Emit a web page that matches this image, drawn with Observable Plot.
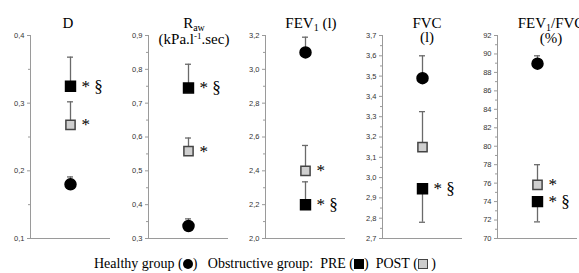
<!DOCTYPE html>
<html><head><meta charset="utf-8">
<script src="https://cdn.jsdelivr.net/npm/d3@7"></script>
<script src="https://cdn.jsdelivr.net/npm/@observablehq/plot@0.6"></script>
<style>
body{margin:0;background:#fff;}
#chart{position:relative;width:579px;height:273px;overflow:hidden;font-family:'Liberation Serif','Times New Roman',serif;color:#000;}
.panel{position:absolute;top:0;}
.title{position:absolute;font-size:15px;line-height:14px;text-align:center;white-space:nowrap;transform:translateX(-50%);}
.title sub{font-size:10px;vertical-align:-3px;line-height:0;}
.title sup{font-size:9px;vertical-align:5px;line-height:0;}
#legend{position:absolute;top:257px;left:265px;transform:translateX(-50%);white-space:nowrap;font-size:14px;line-height:14px;}
.sym{display:inline-block;width:10px;height:10px;vertical-align:-1px;box-sizing:border-box;}
.circ{background:#000;border-radius:50%;}
.pre{background:#000;}
.post{background:#ccc;border:1.5px solid #444;}
</style>
</head><body>
<div id="chart"></div>
<script>
// ---- data ----
const panels = ["D", "Raw", "FEV1", "FVC", "FEV1/FVC"];
const healthyMean = [0.180, 0.337, 3.10, 3.49, 88.95];
const healthyErr  = [0.191, 0.358, 3.19, 3.60, 89.8];
const preMean     = [0.325, 0.745, 2.20, 2.945, 74.0];
const preErr      = [0.368, 0.815, 2.335, 2.78, 71.8];
const postMean    = [0.268, 0.558, 2.40, 3.15, 75.8];
const postErr     = [0.302, 0.597, 2.55, 3.325, 78.0];
const preNote     = ["* §", "* §", "* §", "* §", "* §"];
const postNote    = ["*", "*", "*", "", "*"];
const yDomains = [[0.1, 0.4], [0.3, 0.9], [2.0, 3.2], [2.7, 3.7], [70, 92]];
const majorTicks = [
  [0.1, 0.2, 0.3, 0.4],
  [0.3, 0.4, 0.5, 0.6, 0.7, 0.8, 0.9],
  [2.0, 2.2, 2.4, 2.6, 2.8, 3.0, 3.2],
  [2.7, 2.8, 2.9, 3.0, 3.1, 3.2, 3.3, 3.4, 3.5, 3.6, 3.7],
  [70, 72, 74, 76, 78, 80, 82, 84, 86, 88, 90, 92]
];
const minorTicks = [
  [0.15, 0.25, 0.35],
  [0.35, 0.45, 0.55, 0.65, 0.75, 0.85],
  [2.1, 2.3, 2.5, 2.7, 2.9, 3.1],
  [2.75, 2.85, 2.95, 3.05, 3.15, 3.25, 3.35, 3.45, 3.55, 3.65],
  [71, 73, 75, 77, 79, 81, 83, 85, 87, 89, 91]
];
const decimals = [1, 1, 1, 1, 0];
const titles = [
  {x: 68, lines: ["D"], gap: 14},
  {x: 194, lines: ["R<sub>aw</sub>", "(kPa.l<sup>-1</sup>.sec)"], gap: 16},
  {x: 311, lines: ["FEV<sub>1</sub> (l)"], gap: 14},
  {x: 427, lines: ["FVC", "(l)"], gap: 14},
  {x: 551, lines: ["FEV<sub>1</sub>/FVC", "(%)"], gap: 15}
];
const panelLeft = [0, 118, 235, 352, 467];

const chart = document.getElementById("chart");
const axisColor = "#9a9a9a";
const barColor = "#6a6a6a";
const serif = "'Liberation Serif','Times New Roman',serif";

panels.forEach((name, i) => {
  const rows = [
    {g: "g", grp: "healthy", mean: healthyMean[i], err: healthyErr[i], note: ""},
    {g: "g", grp: "post", mean: postMean[i], err: postErr[i], note: postNote[i]},
    {g: "g", grp: "pre", mean: preMean[i], err: preErr[i], note: preNote[i]}
  ];
  const fmt = d => d.toFixed(decimals[i]).replace(".", ",");
  const svg = Plot.plot({
    width: 112, height: 240,
    marginLeft: 30, marginRight: 2, marginTop: 35, marginBottom: 2,
    x: {type: "band", domain: ["g"], padding: 0.86, axis: null},
    y: {domain: yDomains[i], axis: null},
    style: {background: "transparent", overflow: "visible"},
    marks: [
      Plot.ruleY([yDomains[i][0]], {stroke: axisColor, strokeWidth: 1}),
      Plot.frame({anchor: "left", stroke: axisColor, strokeWidth: 1}),
      Plot.axisY(minorTicks[i], {tickSize: 2, tickFormat: () => "", stroke: axisColor}),
      Plot.axisY(majorTicks[i], {tickSize: 3, tickPadding: 3, tickFormat: fmt, stroke: axisColor,
        fill: "#333", fontSize: 7.5, fontFamily: "'Liberation Sans', Arial, sans-serif"}),
      Plot.ruleX(rows, {x: "g", y1: "mean", y2: "err", stroke: barColor, strokeWidth: 1.3}),
      Plot.tickY(rows, {x: "g", y: "err", stroke: barColor, strokeWidth: 1.3}),
      Plot.dot(rows.filter(d => d.grp === "healthy"), {x: "g", y: "mean", r: 5.5, fill: "#000", stroke: "#000"}),
      Plot.dot(rows.filter(d => d.grp === "post"), {x: "g", y: "mean", symbol: "square", r: 5.2, fill: "#cfcfcf", stroke: "#444", strokeWidth: 1.5}),
      Plot.dot(rows.filter(d => d.grp === "pre"), {x: "g", y: "mean", symbol: "square", r: 5.6, fill: "#000", stroke: "#000"}),
      Plot.text(rows, {x: "g", y: "mean", text: "note", dx: 11, textAnchor: "start",
        fontSize: 17, fontFamily: serif, fill: "#000"})
    ]
  });
  svg.classList.add("panel");
  svg.style.left = panelLeft[i] + "px";
  chart.appendChild(svg);
});

titles.forEach(t => {
  t.lines.forEach((ln, k) => {
    const d = document.createElement("div");
    d.className = "title";
    d.style.left = t.x + "px";
    d.style.top = (16 + k * t.gap) + "px";
    d.innerHTML = ln;
    chart.appendChild(d);
  });
});

const legend = document.createElement("div");
legend.id = "legend";
legend.innerHTML = 'Healthy group (<span class="sym circ"></span>)&nbsp;&nbsp; Obstructive group:&nbsp;&nbsp;PRE (<span class="sym pre"></span>)&nbsp; POST (<span class="sym post"></span> )';
chart.appendChild(legend);
</script>
</body></html>
